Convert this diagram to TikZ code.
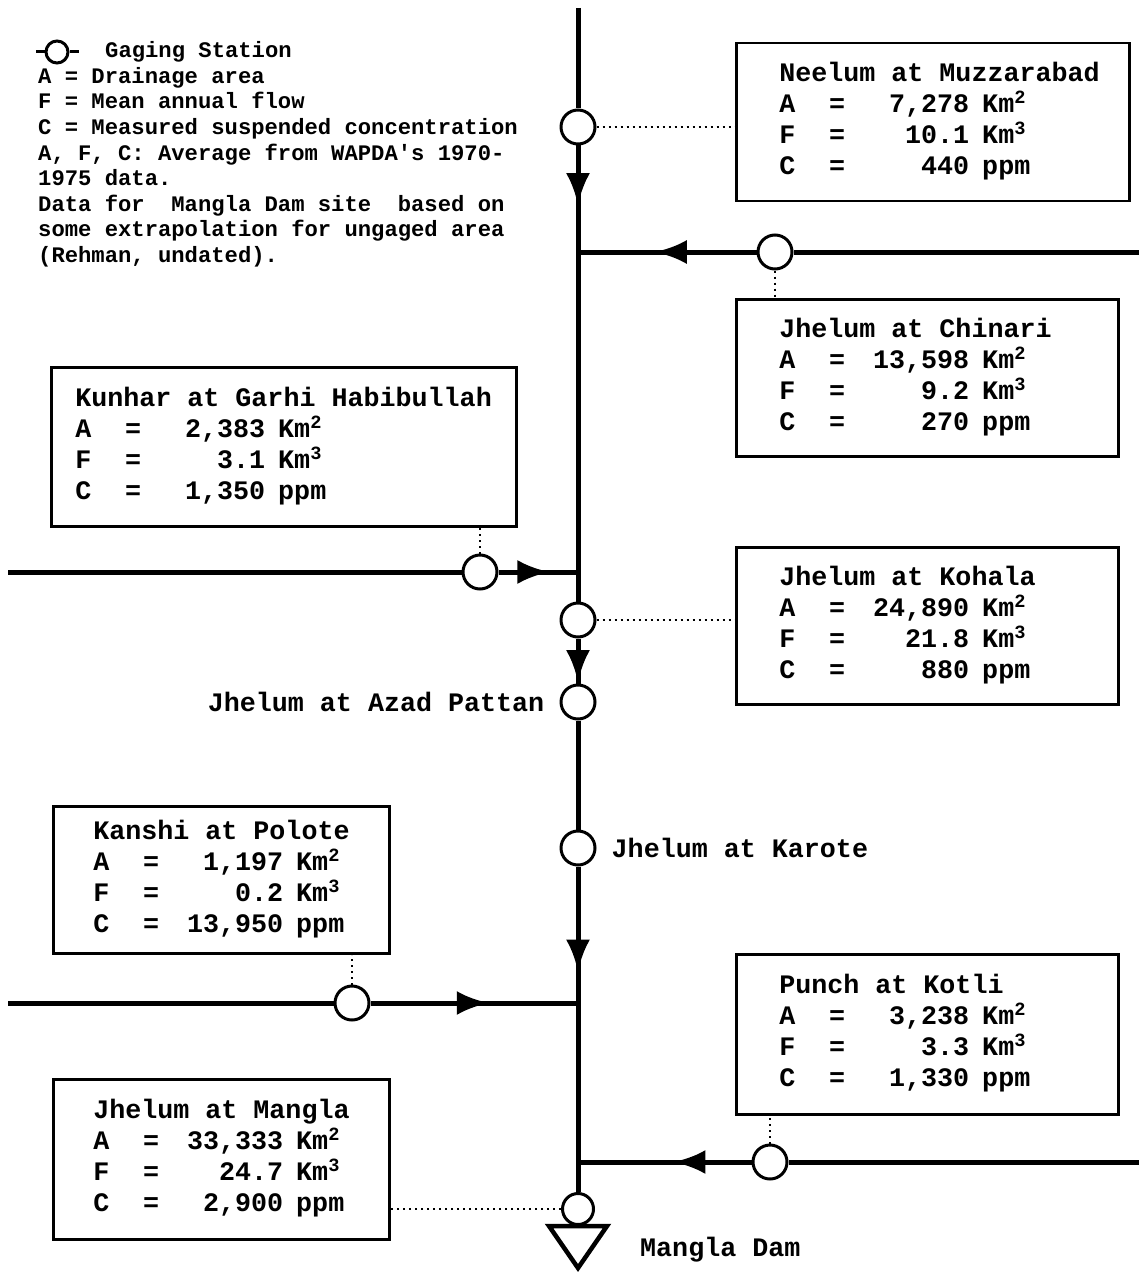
\documentclass[tikz,border=0pt]{standalone}
\usepackage{fontspec}
\usepackage{array}
\setmonofont{Liberation Mono}
\usetikzlibrary{positioning, calc, arrows.meta, decorations.markings}

\newcommand{\boxfont}{\ttfamily\bfseries\fontsize{26.7}{31}\selectfont}
\newcommand{\legfont}{\ttfamily\bfseries\fontsize{22.2}{25.6}\selectfont}
\newcommand{\gagedata}[4]{%
  \spaceskip=0pt \xspaceskip=0pt
  \begin{tabular}{@{}p{50pt}@{}p{30pt}@{}>{\raggedleft\arraybackslash}p{110pt}@{\hspace{13pt}}l@{}}
    \multicolumn{4}{@{}l@{}}{#1}\\
    A & = & #2 & Km\textsuperscript{2}\\
    F & = & #3 & Km\textsuperscript{3}\\
    C & = & #4 & ppm
  \end{tabular}}

\begin{document}
\begin{tikzpicture}[x=1pt, y=-1pt, >=latex,
    river/.style={line width=5pt},
    station/.style={circle, draw, line width=3pt, fill=white, minimum size=34pt, inner sep=0pt},
    leader/.style={line width=2pt, dash pattern=on 2pt off 4pt},
    flowmark/.style={postaction={decorate}, decoration={markings,
      mark=at position #1 with {\arrow{Latex[length=32pt,width=24pt]}}}},
    databox/.style={draw, line width=2.5pt, anchor=north west, align=left, inner ysep=0pt, font=\boxfont},
    labeltext/.style={inner sep=0pt, font=\boxfont}]

    \useasboundingbox (0,0) rectangle (1139,1273);

    % --- Legend ---
    \coordinate (legL) at (36,52);
    \coordinate (legR) at (79,52);
    \node[circle, draw, line width=3pt, fill=white, minimum size=22pt, inner sep=0pt] (legSta) at (57,52) {};
    \draw[line width=3pt] (legL) -- (legSta) (legSta) -- (legR);
    \node[anchor=west, inner sep=0pt, font=\legfont] (legTitle) at (105,52) {Gaging Station};
    \node[anchor=north west, inner sep=0pt, align=left, font=\legfont] (legBody) at (38,67) {%
      A = Drainage area\\
      F = Mean annual flow\\
      C = Measured suspended concentration\\
      A, F, C: Average from WAPDA's 1970-\\
      1975 data.\\
      Data for\ \ Mangla Dam site\ \ based on\\
      some extrapolation for ungaged area\\
      (Rehman, undated).};

    % --- Junctions and river ends ---
    \coordinate (top) at (578,8);
    \coordinate (jChinari) at (578,252);
    \coordinate (jKunhar) at (578,572);
    \coordinate (jKanshi) at (578,1003);
    \coordinate (jPunch) at (578,1162);
    \coordinate (eChinari) at (1139,252);
    \coordinate (wKunhar) at (8,572);
    \coordinate (wKanshi) at (8,1003);
    \coordinate (ePunch) at (1139,1162);

    % --- Gaging stations ---
    % \name, \x, \y
    \foreach \name/\x/\y in {
        sNeelum/578/127,
        sChinari/775/252,
        sKunhar/480/572,
        sKohala/578/620,
        sAzad/578/702,
        sKarote/578/848,
        sKanshi/352/1003,
        sPunch/770/1162%
    } {
        \node[station] (\name) at (\x,\y) {};
    }
    \node[station, minimum size=31pt] (sMangla) at (578,1209) {};

    % --- Main river (Jhelum) ---
    \draw[river] (top) -- (sNeelum);
    \draw[river, flowmark=0.56] (sNeelum) -- (jChinari);
    \draw[river] (jChinari) -- (sKohala);
    \draw[river, flowmark=0.97] (sKohala) -- (sAzad);
    \draw[river] (sAzad) -- (sKarote);
    \draw[river, flowmark=0.77] (sKarote) -- (jKanshi);
    \draw[river] (jKanshi) -- (sMangla);

    % --- Tributaries ---
    \draw[river] (eChinari) -- (sChinari);
    \draw[river, flowmark=0.57] (sChinari) -- (jChinari);
    \draw[river] (wKunhar) -- (sKunhar);
    \draw[river, flowmark=0.64] (sKunhar) -- (jKunhar);
    \draw[river] (wKanshi) -- (sKanshi);
    \draw[river, flowmark=0.57] (sKanshi) -- (jKanshi);
    \draw[river] (ePunch) -- (sPunch);
    \draw[river, flowmark=0.45] (sPunch) -- (jPunch);

    % --- Mangla Dam ---
    \draw[line width=4.5pt] ($(sMangla.south)+(-29,0)$) -- ($(sMangla.south)+(29,0)$)
        -- ($(sMangla.south)+(0,42)$) -- cycle;
    \node[labeltext, anchor=west] (lDam) at (640,1250) {Mangla Dam};

    % --- Station labels ---
    \node[labeltext, left=15pt of sAzad] (lAzad) {Jhelum at Azad Pattan};
    \node[labeltext, right=15pt of sKarote] (lKarote) {Jhelum at Karote};

    % --- Data boxes ---
    \node[databox, text width=307pt, inner xsep=43pt, minimum height=158pt] (bNeelum) at (735,42)
        {\gagedata{Neelum at Muzzarabad}{7,278}{10.1}{440}};
    \node[databox, text width=296pt, inner xsep=43pt, minimum height=157pt] (bChinari) at (735,298)
        {\gagedata{Jhelum at Chinari}{13,598}{9.2}{270}};
    \node[databox, text width=417pt, inner xsep=24pt, minimum height=159pt] (bKunhar) at (50,366)
        {\gagedata{Kunhar at Garhi Habibullah}{2,383}{3.1}{1,350}};
    \node[databox, text width=296pt, inner xsep=43pt, minimum height=157pt] (bKohala) at (735,546)
        {\gagedata{Jhelum at Kohala}{24,890}{21.8}{880}};
    \node[databox, text width=256pt, inner xsep=40pt, minimum height=147pt] (bKanshi) at (52,805)
        {\gagedata{Kanshi at Polote}{1,197}{0.2}{13,950}};
    \node[databox, text width=296pt, inner xsep=43pt, minimum height=160pt] (bPunch) at (735,953)
        {\gagedata{Punch at Kotli}{3,238}{3.3}{1,330}};
    \node[databox, text width=256pt, inner xsep=40pt, minimum height=160pt] (bMangla) at (52,1078)
        {\gagedata{Jhelum at Mangla}{33,333}{24.7}{2,900}};

    % --- Leaders from stations to boxes ---
    \draw[leader] (sNeelum.east) -- (sNeelum.east -| bNeelum.west);
    \draw[leader] (sChinari.south) -- (sChinari.south |- bChinari.north);
    \draw[leader] (sKunhar.north) -- (sKunhar.north |- bKunhar.south);
    \draw[leader] (sKohala.east) -- (sKohala.east -| bKohala.west);
    \draw[leader] (sKanshi.north) -- (sKanshi.north |- bKanshi.south);
    \draw[leader] (sPunch.north) -- (sPunch.north |- bPunch.south);
    \draw[leader] (sMangla.west) -- (sMangla.west -| bMangla.east);

\end{tikzpicture}
\end{document}
